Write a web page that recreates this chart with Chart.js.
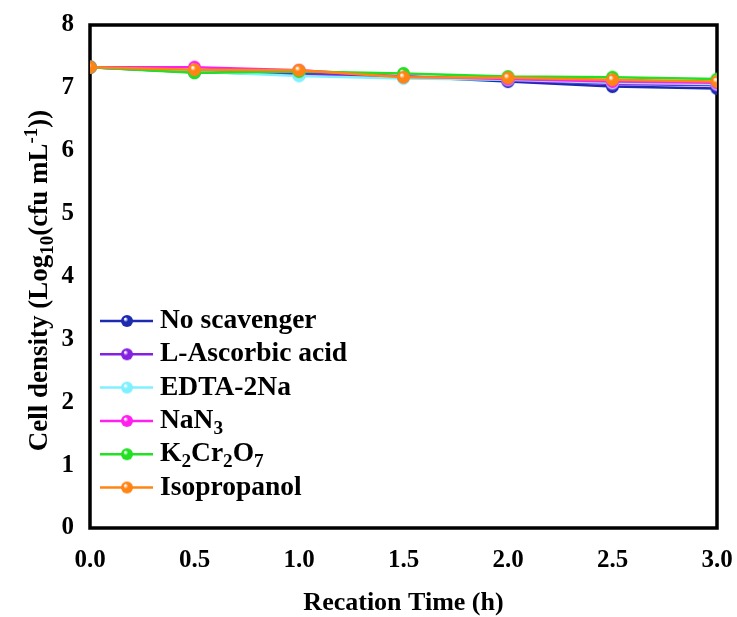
<!DOCTYPE html>
<html>
<head>
<meta charset="utf-8">
<script src="https://cdn.jsdelivr.net/npm/chart.js@4.4.1/dist/chart.umd.min.js"></script>
<style>
  html, body { margin: 0; padding: 0; background: #fff; }
  #wrap { width: 737px; height: 617px; }
</style>
</head>
<body>
<div id="wrap"><canvas id="myChart" width="737" height="617"></canvas></div>
<script>
// reaction time (h)
var times = [0, 0.5, 1.0, 1.5, 2.0, 2.5, 3.0];

// cell density, log10(cfu/mL)
var noScavenger = [7.33, 7.25, 7.22, 7.18, 7.10, 7.02, 6.99];
var ascorbic    = [7.33, 7.26, 7.23, 7.18, 7.12, 7.06, 7.04];
var edta        = [7.33, 7.26, 7.19, 7.15, 7.13, 7.08, 7.06];
var nan3        = [7.33, 7.33, 7.28, 7.18, 7.14, 7.10, 7.08];
var k2cr2o7     = [7.33, 7.24, 7.26, 7.23, 7.18, 7.17, 7.14];
var isopropanol = [7.33, 7.29, 7.28, 7.17, 7.16, 7.13, 7.10];

var seriesLabels = ['No scavenger', 'L-Ascorbic acid', 'EDTA-2Na', 'NaN_{3}', 'K_{2}Cr_{2}O_{7}', 'Isopropanol'];
var seriesValues = [noScavenger, ascorbic, edta, nan3, k2cr2o7, isopropanol];
var seriesColors = ['#1c2bb0', '#8420e0', '#7ff0ff', '#ff20f0', '#22e022', '#ff8414'];

var xTitle = 'Recation Time (h)';
var yTitle = 'Cell density (Log_{10}(cfu mL^{-1}))';

var FONT = '"Liberation Serif", "Times New Roman", serif';

// split "a_{b}c^{d}" into runs
function parseRich(str){
  var runs = [];
  var re = /([_^])\{([^}]*)\}/g, last = 0, m;
  while((m = re.exec(str)) !== null){
    if(m.index > last) runs.push({t: str.slice(last, m.index), k: 0});
    runs.push({t: m[2], k: m[1] == '_' ? 1 : -1});
    last = re.lastIndex;
  }
  if(last < str.length) runs.push({t: str.slice(last), k: 0});
  return runs;
}

function richWidth(ctx, str, size){
  var w = 0;
  parseRich(str).forEach(function(r){
    ctx.font = 'bold ' + (r.k ? size*0.7 : size) + 'px ' + FONT;
    w += ctx.measureText(r.t).width;
  });
  return w;
}

function drawRich(ctx, str, x, y, size){
  ctx.textBaseline = 'middle';
  ctx.textAlign = 'left';
  parseRich(str).forEach(function(r){
    var s = r.k ? size*0.7 : size;
    ctx.font = 'bold ' + s + 'px ' + FONT;
    ctx.fillText(r.t, x, y + r.k*size*0.3);
    x += ctx.measureText(r.t).width;
  });
}

// shiny ball marker
function ball(color, r){
  var c = document.createElement('canvas');
  c.width = c.height = r*2 + 2;
  var g = c.getContext('2d');
  var cx = r + 1;
  var grad = g.createRadialGradient(cx - r*0.3, cx - r*0.35, r*0.1, cx, cx, r);
  grad.addColorStop(0, '#ffffff');
  grad.addColorStop(0.35, color);
  grad.addColorStop(1, color);
  g.fillStyle = grad;
  g.beginPath();
  g.arc(cx, cx, r, 0, Math.PI*2);
  g.fill();
  return c;
}

var datasets = [];
for(var i=0; i<seriesValues.length; i++){
  var pts = [];
  for(var j=0; j<times.length; j++){
    pts.push({x: times[j], y: seriesValues[i][j]});
  }
  datasets.push({
    label: seriesLabels[i],
    data: pts,
    borderColor: seriesColors[i],
    backgroundColor: seriesColors[i],
    borderWidth: 2.5,
    pointStyle: ball(seriesColors[i], 6.5),
    pointRadius: 6.5,
    order: seriesValues.length - i,
    tension: 0
  });
}

var framePlugin = {
  id: 'frame',
  beforeDatasetsDraw: function(chart){
    var a = chart.chartArea, ctx = chart.ctx;
    ctx.save();
    ctx.strokeStyle = '#000';
    ctx.lineWidth = 3.5;
    ctx.strokeRect(a.left, a.top, a.right - a.left, a.bottom - a.top);
    ctx.restore();
  },
  afterDraw: function(chart){
    var a = chart.chartArea, ctx = chart.ctx;
    ctx.save();
    ctx.fillStyle = '#000';
    // x title
    var w = richWidth(ctx, xTitle, 26);
    drawRich(ctx, xTitle, (a.left + a.right)/2 - w/2, 603, 26);
    // y title, rotated
    ctx.translate(40, (a.top + a.bottom)/2 + 4);
    ctx.rotate(-Math.PI/2);
    w = richWidth(ctx, yTitle, 27);
    drawRich(ctx, yTitle, -w/2, 0, 27);
    ctx.restore();

    // legend inside the plot
    ctx.save();
    var lx = 100, ly = 321, step = 33.3;
    for(var i=0; i<seriesLabels.length; i++){
      var yy = ly + i*step;
      ctx.strokeStyle = seriesColors[i];
      ctx.lineWidth = 2.5;
      ctx.beginPath();
      ctx.moveTo(lx, yy);
      ctx.lineTo(lx + 53, yy);
      ctx.stroke();
      var b = ball(seriesColors[i], 6);
      ctx.drawImage(b, lx + 27 - b.width/2, yy - b.height/2);
      ctx.fillStyle = '#000';
      drawRich(ctx, seriesLabels[i], lx + 60, yy, 27.5);
    }
    ctx.restore();
  }
};

const ctx = document.getElementById('myChart');
const myChart = new Chart(ctx, {
  type: 'line',
  data: { datasets: datasets },
  options: {
    responsive: false,
    animation: false,
    layout: { padding: { left: 0, right: 20, top: 25, bottom: 0 } },
    plugins: {
      legend: { display: false },
      tooltip: { enabled: false }
    },
    scales: {
      x: {
        type: 'linear',
        min: 0,
        max: 3,
        grid: { display: false, drawTicks: false },
        border: { display: false },
        ticks: {
          stepSize: 0.5,
          padding: 18,
          color: '#000',
          font: { family: FONT, size: 25, weight: 'bold' },
          callback: function(v){ return v.toFixed(1); }
        },
        afterFit: function(s){ s.height = 89; s.paddingLeft = 0; s.paddingRight = 0; }
      },
      y: {
        min: 0,
        max: 8,
        grid: { display: false, drawTicks: false },
        border: { display: false },
        ticks: {
          stepSize: 1,
          padding: 16,
          color: '#000',
          font: { family: FONT, size: 25, weight: 'bold' }
        },
        afterFit: function(s){ s.width = 90; s.paddingTop = 0; s.paddingBottom = 0; }
      }
    }
  },
  plugins: [framePlugin]
});
</script>
</body>
</html>
